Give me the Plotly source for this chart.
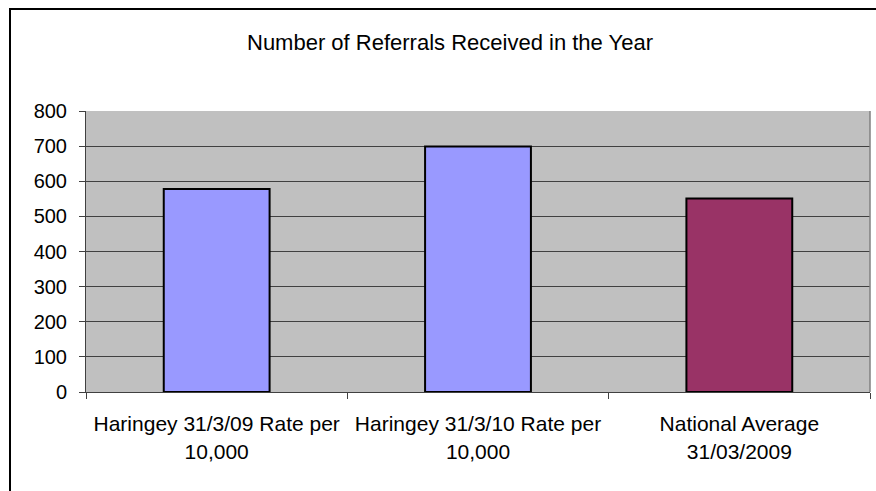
import plotly.graph_objects as go

# ---- data ----
categories = [
    "Haringey 31/3/09 Rate per<br>10,000",
    "Haringey 31/3/10 Rate per<br>10,000",
    "National Average<br>31/03/2009",
]
referrals = [578, 699, 551]
y_ticks = [0, 100, 200, 300, 400, 500, 600, 700, 800]
title_text = "Number of Referrals Received in the Year"

# ---- style ----
bar_colors = ["#9999FF", "#9999FF", "#993366"]
FONT = "Liberation Sans, Arial, sans-serif"

W, H = 876, 491
L, R, T, B = 86, 6, 111, 99
pw = W - L - R
ph = H - T - B

fig = go.Figure()
fig.add_trace(go.Bar(
    x=categories,
    y=referrals,
    width=0.405,
    marker=dict(color=bar_colors, line=dict(color="#000000", width=2)),
    hoverinfo="x+y",
))

def px_x(px):
    return (px - L) / pw

def px_y(py):
    return (H - B - py) / ph

fig.update_layout(
    width=W, height=H,
    margin=dict(l=L, r=R, t=T, b=B, pad=0),
    paper_bgcolor="#FFFFFF",
    plot_bgcolor="#C0C0C0",
    showlegend=False,
    font=dict(family=FONT, size=20, color="#000000"),
    title=dict(
        text=title_text,
        x=450 / W, xanchor="center",
        y=1 - 42 / H, yanchor="middle",
        font=dict(family=FONT, size=22, color="#000000"),
    ),
    xaxis=dict(
        type="category",
        showgrid=False,
        showline=True, linecolor="#404040", linewidth=1,
        ticks="outside", tickson="boundaries", ticklen=6,
        tickcolor="#404040", tickwidth=1,
        ticklabelstandoff=13,
        tickfont=dict(family=FONT, size=21, color="#000000"),
        fixedrange=True,
    ),
    yaxis=dict(
        range=[0, 800],
        tickvals=y_ticks,
        ticktext=[str(v) for v in y_ticks],
        showgrid=True, gridcolor="#404040", gridwidth=1,
        zeroline=False,
        showline=True, linecolor="#404040", linewidth=1,
        ticks="outside", ticklen=6, tickcolor="#404040", tickwidth=1,
        ticklabelstandoff=8,
        tickfont=dict(family=FONT, size=20, color="#000000"),
        fixedrange=True,
    ),
    shapes=[
        # outer chart border (extends past the cropped image on right/bottom)
        dict(type="rect", xref="paper", yref="paper",
             x0=px_x(10), x1=px_x(905), y0=px_y(520), y1=px_y(9),
             line=dict(color="#000000", width=2), fillcolor="rgba(0,0,0,0)",
             layer="above"),
        # right border of plot area
        dict(type="line", xref="paper", yref="paper",
             x0=1, x1=1, y0=0, y1=1,
             line=dict(color="#808080", width=1.5)),
    ],
)

fig.write_html(
    "out.html",
    config={"displayModeBar": False},
    post_script="document.body.style.margin='0';document.body.style.overflow='hidden';",
)
